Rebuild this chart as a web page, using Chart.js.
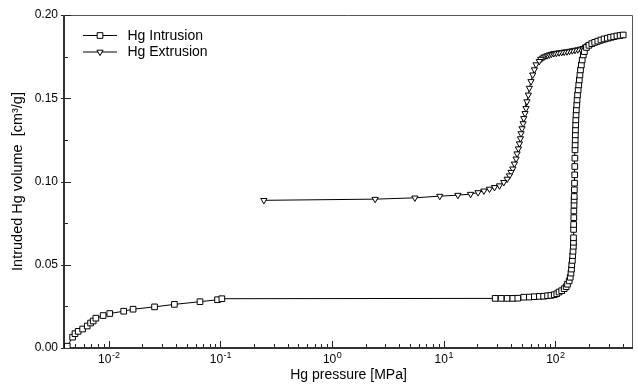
<!DOCTYPE html>
<html>
<head>
<meta charset="utf-8">
<script src="https://cdn.jsdelivr.net/npm/chart.js@4.4.1/dist/chart.umd.min.js"></script>
<style>
  html, body { margin: 0; padding: 0; background: #fff; }
  #wrap { width: 638px; height: 391px; }
</style>
</head>
<body>
<div id="wrap"><canvas id="porosimetry" width="638" height="391"></canvas></div>
<script>
// Hg intrusion: pressure [MPa] and volume [cm3/g]
const intrusionPressure = [
    0.00425, 0.00474, 0.00498, 0.00532, 0.00583, 0.00641, 0.00687, 0.00725, 0.00766, 0.0089,
    0.0102, 0.0136, 0.0165, 0.0257, 0.0387, 0.0656, 0.0942, 0.103,
    28.9, 32.7, 37.0, 41.6, 46.1, 52.1, 58.5, 64.8, 71.9, 78.5, 85.2, 91.2, 97.7, 103, 108, 114,
    120, 125, 128.5, 133, 136, 138, 139.5, 140.3, 142, 143, 144, 145, 145.2, 145.4, 145.6, 145.8,
    146.3, 146.5, 147, 147.3, 147.6, 148, 148.5, 149, 149.3, 149.6, 150, 150.3, 150.6, 151, 151.5,
    152, 152.5, 153.3, 154, 155.6, 156.5, 158, 160, 162, 164, 166, 168, 171, 174, 178, 182,
    190, 200, 212, 225, 240, 256, 273, 292, 312, 333, 356, 380, 405
];
const intrusionVolume = [
    0.0011, 0.0065, 0.0086, 0.0100, 0.0114, 0.0132, 0.0150, 0.0162, 0.0179, 0.0195,
    0.0207, 0.0221, 0.0233, 0.0247, 0.0262, 0.0278, 0.0290, 0.0296,
    0.0298, 0.0298, 0.0298, 0.0298, 0.0299, 0.0305, 0.0306, 0.0308, 0.0310, 0.0311, 0.0314, 0.0316, 0.0320, 0.0326, 0.0336, 0.0344,
    0.0356, 0.0368, 0.0383, 0.0403, 0.0425, 0.0450, 0.0474, 0.0500, 0.0526, 0.0555, 0.0581, 0.0611, 0.0635, 0.0662, 0.0712, 0.0742,
    0.0783, 0.0823, 0.0858, 0.0888, 0.0910, 0.0950, 0.0990, 0.1040, 0.1090, 0.1140, 0.1190, 0.1220, 0.1250, 0.1280, 0.1310,
    0.1340, 0.1370, 0.1400, 0.1430, 0.1460, 0.1490, 0.1520, 0.1550, 0.1580, 0.1610, 0.1640, 0.1670, 0.1700, 0.1730, 0.1760, 0.1780,
    0.1805, 0.1818, 0.1828, 0.1836, 0.1843, 0.1850, 0.1856, 0.1861, 0.1866, 0.1870, 0.1874, 0.1877, 0.1880
];

// Hg extrusion, from high to low pressure
const extrusionPressure = [
    400, 372, 351, 331, 312, 294, 277, 261, 246, 232, 219, 207, 196, 186, 177, 168,
    159, 150, 142, 134, 127, 120, 114, 108, 102, 97, 92, 88, 84, 80, 77, 74, 71.8,
    67.1, 64.9, 62.7, 60.5, 58.5, 57.3, 55.7, 54.6, 53.5, 52.1, 51.4, 50.3, 49.3, 48.7, 47.7,
    46.7, 45.4, 44.5, 43.0, 41.6, 40.1, 38.8, 37.0, 34.5, 31.6, 28.5, 25.7, 22.9, 20.3, 17.4,
    13.4, 9.22, 5.52, 2.43, 0.245
];
const extrusionVolume = [
    0.1882, 0.1878, 0.1874, 0.1869, 0.1864, 0.1859, 0.1854, 0.1849, 0.1843, 0.1837, 0.1831, 0.1825, 0.1817, 0.1808, 0.1800, 0.1796,
    0.1792, 0.1789, 0.1786, 0.1783, 0.1780, 0.1778, 0.1776, 0.1774, 0.1771, 0.1769, 0.1765, 0.1761, 0.1756, 0.1750, 0.1743, 0.1735, 0.1722,
    0.1702, 0.1672, 0.1641, 0.1601, 0.1561, 0.1520, 0.1480, 0.1439, 0.1409, 0.1379, 0.1348, 0.1318, 0.1288, 0.1258, 0.1227,
    0.1197, 0.1167, 0.1136, 0.1106, 0.1076, 0.1056, 0.1035, 0.1015, 0.0995, 0.0975, 0.0965, 0.0955, 0.0944, 0.0934, 0.0924,
    0.0918, 0.0912, 0.0902, 0.0894, 0.0887
];

const seriesLabels = ['Hg Intrusion', 'Hg Extrusion'];
const decadeTicks = [0.01, 0.1, 1, 10, 100];
const volumeTicks = [0, 0.05, 0.1, 0.15, 0.2];

const FONT = "'Liberation Sans', Arial, sans-serif";

function toPoints(xs, ys) {
    return xs.map((x, i) => ({ x, y: ys[i] }));
}

// box frame plus inward tick marks, drawn under the markers
const frameTicks = {
    id: 'frameTicks',
    beforeDatasetsDraw(chart) {
        const { ctx, chartArea: a, scales: { x, y } } = chart;
        ctx.save();
        ctx.strokeStyle = '#555';
        ctx.lineWidth = 1;
        ctx.beginPath();
        ctx.moveTo(a.left, a.top + 0.5);
        ctx.lineTo(a.right - 0.5, a.top + 0.5);
        ctx.lineTo(a.right - 0.5, a.bottom);
        ctx.stroke();

        ctx.strokeStyle = '#222';
        ctx.beginPath();
        for (let e = -3; e <= 2; e++) {
            for (let m = 1; m <= 9; m++) {
                const v = m * Math.pow(10, e);
                if (v < x.min || v > x.max) continue;
                const px = Math.round(x.getPixelForValue(v)) + 0.5;
                ctx.moveTo(px, a.bottom);
                ctx.lineTo(px, a.bottom - (m === 1 ? 7 : 4));
            }
        }
        for (let i = 0; i <= 8; i++) {
            const py = Math.round(y.getPixelForValue(i * 0.025)) + 0.5;
            ctx.moveTo(a.left - (i % 2 ? 0 : 3), py);
            ctx.lineTo(a.left + (i % 2 ? 4 : 7), py);
        }
        ctx.stroke();

        ctx.strokeStyle = '#333';
        ctx.lineWidth = 2;
        ctx.beginPath();
        ctx.moveTo(a.left, a.top);
        ctx.lineTo(a.left, a.bottom);
        ctx.lineTo(a.right, a.bottom);
        ctx.stroke();
        ctx.restore();
    }
};

// decade labels as 10 with a raised exponent
const decadeLabels = {
    id: 'decadeLabels',
    afterDraw(chart) {
        const { ctx, chartArea: a, scales: { x } } = chart;
        ctx.save();
        ctx.fillStyle = '#000';
        ctx.textBaseline = 'alphabetic';
        x.ticks.forEach(t => {
            const exp = String(Math.round(Math.log10(t.value)));
            ctx.font = '12px ' + FONT;
            const wBase = ctx.measureText('10').width;
            ctx.font = '9px ' + FONT;
            const wExp = ctx.measureText(exp).width;
            const left = x.getPixelForValue(t.value) - (wBase + wExp) / 2;
            const base = a.bottom + 15;
            ctx.font = '12px ' + FONT;
            ctx.fillText('10', left, base);
            ctx.font = '9px ' + FONT;
            ctx.fillText(exp, left + wBase + 0.5, base - 5);
        });
        ctx.restore();
    }
};

// legend with line + marker sample, inside the plot
const lineLegend = {
    id: 'lineLegend',
    afterDraw(chart) {
        const { ctx } = chart;
        ctx.save();
        ctx.font = '14px ' + FONT;
        ctx.textBaseline = 'middle';
        chart.data.datasets.forEach((ds, i) => {
            const yy = 35 + i * 16.5;
            ctx.strokeStyle = '#000';
            ctx.lineWidth = 1;
            ctx.beginPath();
            ctx.moveTo(83, yy + 0.5);
            ctx.lineTo(117, yy + 0.5);
            ctx.stroke();
            ctx.fillStyle = '#fff';
            ctx.strokeStyle = '#000';
            Chart.helpers.drawPoint(ctx, {
                pointStyle: ds.pointStyle, radius: ds.pointRadius, rotation: ds.rotation, borderWidth: 1
            }, 100, yy + 0.5);
            ctx.fillStyle = '#000';
            ctx.fillText(ds.label, 127.5, yy + 1);
        });
        ctx.restore();
    }
};

function initChart() {
    new Chart(document.getElementById('porosimetry'), {
        type: 'scatter',
        data: {
            datasets: [{
                label: seriesLabels[0],
                data: toPoints(intrusionPressure, intrusionVolume),
                showLine: true,
                borderColor: '#000',
                borderWidth: 1,
                pointStyle: 'rect',
                pointRadius: 4,
                pointBackgroundColor: '#fff',
                pointBorderColor: '#000',
                pointBorderWidth: 1
            }, {
                label: seriesLabels[1],
                data: toPoints(extrusionPressure, extrusionVolume),
                showLine: true,
                borderColor: '#000',
                borderWidth: 1,
                pointStyle: 'triangle',
                rotation: 180,
                pointRotation: 180,
                pointRadius: 3.6,
                pointBackgroundColor: '#fff',
                pointBorderColor: '#000',
                pointBorderWidth: 1
            }]
        },
        options: {
            responsive: false,
            animation: false,
            layout: { padding: { left: 0, right: 3, top: 15, bottom: 0 } },
            plugins: { legend: { display: false }, tooltip: { enabled: false } },
            scales: {
                x: {
                    type: 'logarithmic',
                    min: 0.00397,
                    max: 496,
                    afterBuildTicks: s => { s.ticks = decadeTicks.map(v => ({ value: v })); },
                    afterFit: s => { s.height = 43; },
                    grid: { display: false, drawTicks: false },
                    border: { display: false },
                    ticks: { display: false },
                    title: {
                        display: true,
                        text: 'Hg pressure [MPa]',
                        color: '#000',
                        font: { family: FONT, size: 14 },
                        padding: { top: 0, bottom: 7 }
                    }
                },
                y: {
                    min: 0,
                    max: 0.2,
                    afterBuildTicks: s => { s.ticks = volumeTicks.map(v => ({ value: v })); },
                    afterFit: s => { s.width = 64; },
                    grid: { display: false, drawTicks: false },
                    border: { display: false },
                    ticks: {
                        padding: 6,
                        color: '#000',
                        font: { family: FONT, size: 12 },
                        callback: v => v.toFixed(2)
                    },
                    title: {
                        display: true,
                        text: 'Intruded Hg volume  [cm\u00B3/g]',
                        color: '#000',
                        font: { family: FONT, size: 14.5 },
                        padding: { top: 9, bottom: 0 }
                    }
                }
            }
        },
        plugins: [frameTicks, decadeLabels, lineLegend]
    });
}

initChart();
</script>
</body>
</html>
